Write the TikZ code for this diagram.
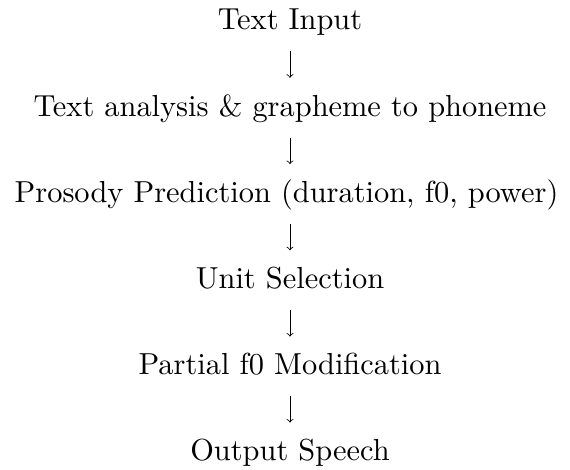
\documentclass[tikz,border=0pt]{standalone}
\usepackage{fontspec}
\setmainfont{lmroman10-regular.otf}
\begin{document}
\begin{tikzpicture}[x=0.5pt, y=-0.5pt]
\tikzset{stage/.style={anchor=base, inner sep=0pt, text height=10pt, text depth=2pt, font=\fontsize{15.2}{18}\selectfont}}
\tikzset{flow/.style={->, shorten <=8.5pt, shorten >=9pt}}
\useasboundingbox (0,0) rectangle (570,470);
\node[stage] (tid0) at (290,30){Text Input};
\node[stage] (tid1) at (290,116.2){Text analysis \& grapheme to phoneme};
\node[stage] (tid2) at (286.5,202.5){Prosody Prediction (duration, f0, power)};
\node[stage] (tid3) at (290,288.7){Unit Selection};
\node[stage] (tid4) at (290,375){Partial f0 Modification};
\node[stage] (tid5) at (290,461){Output Speech};
\draw[flow](tid0) -- (tid1);
\draw[flow](tid1.south) -- (tid1.south |- tid2.north);
\draw[flow](tid3.north |- tid2.south) -- (tid3.north);
\draw[flow](tid3) -- (tid4);
\draw[flow](tid4) -- (tid5);
\end{tikzpicture}
\end{document}
